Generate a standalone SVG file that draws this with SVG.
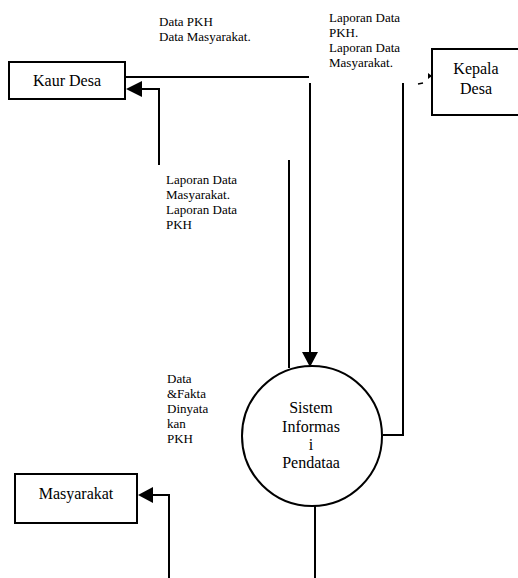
<svg xmlns="http://www.w3.org/2000/svg" width="518" height="578" viewBox="0 0 518 578">
<style>
.box{fill:#fff;stroke:#000;stroke-width:2}
.ln{fill:none;stroke:#000;stroke-width:2}
.lbl{font-family:'Liberation Serif','Times New Roman',Tinos,'DejaVu Serif',serif;font-size:13px;fill:#000}
.nt{font-family:'Liberation Serif','Times New Roman',Tinos,'DejaVu Serif',serif;font-size:16px;fill:#000;text-anchor:middle}
</style>
<defs>
<marker id="ah" viewBox="0 0 10 10" refX="10" refY="5" markerWidth="8" markerHeight="8" markerUnits="userSpaceOnUse" orient="auto">
<path d="M0,0 L10,5 L0,10 Z" fill="#000"/>
</marker>
</defs>
<rect width="518" height="578" fill="#fff"/>
<g id="connectors">
<polyline class="ln" points="125,77 309,77"/>
<line class="ln" x1="310" y1="83" x2="310" y2="352"/>
<path d="M302,352 L318,352 L310,367 Z" fill="#000"/>
<polyline class="ln" points="159,165 159,89 142,89"/>
<path d="M126,89 L142,81 L142,97 Z" fill="#000"/>
<line class="ln" x1="289" y1="160" x2="289" y2="368"/>
<polyline class="ln" points="383,435 403,435 403,83"/>
<line x1="418" y1="84" x2="423" y2="83" stroke="#000" stroke-width="1.5"/>
<path d="M428,73 L432,76 L428,79 Z" fill="#000"/>
<polyline class="ln" points="169,578 169,495 153,495"/>
<path d="M138,495 L153,487 L153,503 Z" fill="#000"/>
<line class="ln" x1="315" y1="505" x2="315" y2="578"/>
</g>
<g id="kaur-desa">
<rect class="box" x="9" y="62" width="116" height="37"/>
<text class="nt" x="67" y="86">Kaur Desa</text>
</g>
<g id="kepala-desa">
<rect class="box" x="432" y="49" width="90" height="66"/>
<text class="nt" x="476" y="74">Kepala</text>
<text class="nt" x="476" y="94">Desa</text>
</g>
<g id="sistem">
<circle cx="312" cy="436" r="70" fill="#fff" stroke="#000" stroke-width="2"/>
<text class="nt" x="311" y="413">Sistem</text>
<text class="nt" x="311" y="432">Informas</text>
<text class="nt" x="311" y="450">i</text>
<text class="nt" x="311" y="468">Pendataa</text>
</g>
<g id="masyarakat">
<rect class="box" x="15" y="474" width="122" height="49"/>
<text class="nt" x="76" y="499">Masyarakat</text>
</g>
<g id="labels">
<text class="lbl" x="159" y="26">Data PKH</text>
<text class="lbl" x="159" y="41">Data Masyarakat.</text>
<text class="lbl" x="329" y="22">Laporan Data</text>
<text class="lbl" x="329" y="37">PKH.</text>
<text class="lbl" x="329" y="52">Laporan Data</text>
<text class="lbl" x="329" y="67">Masyarakat.</text>
<text class="lbl" x="166" y="184">Laporan Data</text>
<text class="lbl" x="166" y="199">Masyarakat.</text>
<text class="lbl" x="166" y="214">Laporan Data</text>
<text class="lbl" x="166" y="229">PKH</text>
<text class="lbl" x="167" y="383">Data</text>
<text class="lbl" x="167" y="398">&amp;Fakta</text>
<text class="lbl" x="167" y="413">Dinyata</text>
<text class="lbl" x="167" y="428">kan</text>
<text class="lbl" x="167" y="443">PKH</text>
</g>
</svg>
